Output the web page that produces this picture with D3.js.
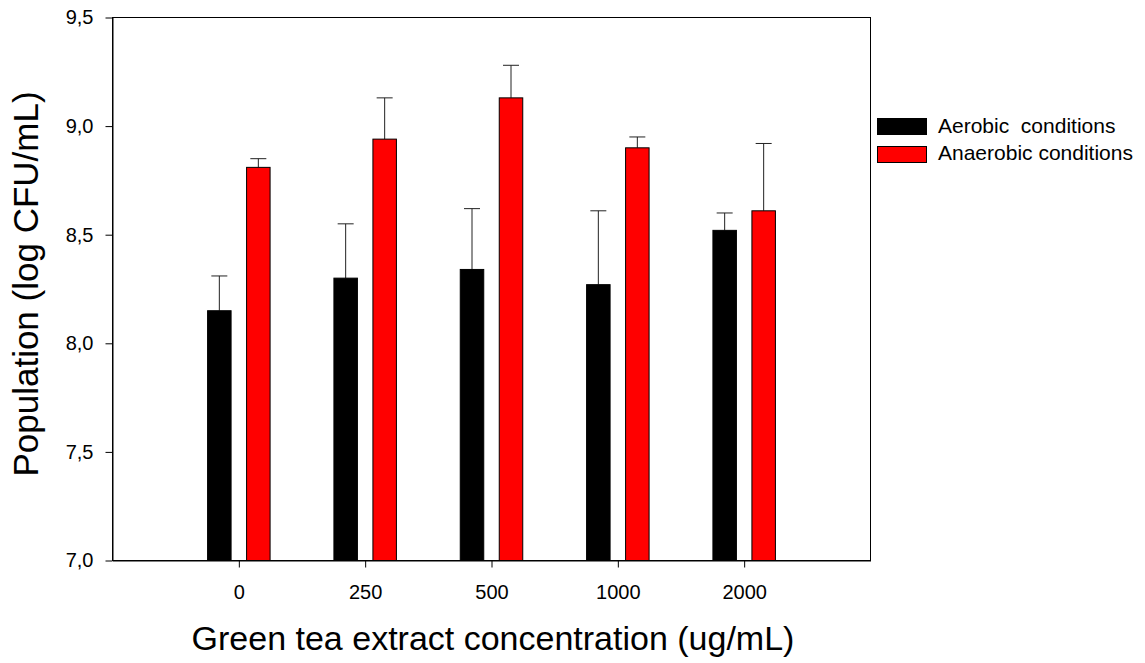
<!DOCTYPE html>
<html><head><meta charset="utf-8">
<script src="https://cdn.jsdelivr.net/npm/d3@7"></script>
<style>body{margin:0;background:#fff;} text{font-family:"Liberation Sans",Arial,sans-serif;}</style>
</head><body><svg id="c" width="1145" height="663"></svg>
<script>
const categories = ["0","250","500","1000","2000"];
const seriesNames = ["Aerobic  conditions","Anaerobic conditions"];
const aerobic = [8.15, 8.30, 8.34, 8.27, 8.52];
const aerobicErr = [0.16, 0.25, 0.28, 0.34, 0.08];
const anaerobic = [8.81, 8.94, 9.13, 8.90, 8.61];
const anaerobicErr = [0.04, 0.19, 0.15, 0.05, 0.31];
const yTicks = [7.0, 7.5, 8.0, 8.5, 9.0, 9.5];
const colors = ["#000000", "#ff0000"];

const svg = d3.select("#c");
const L = 112.5, R = 870.5, T = 17.5, B = 560.5;
const x = d3.scalePoint().domain(categories).range([L, R]).padding(1);
const y = d3.scaleLinear().domain([7.0, 9.5]).range([B, T]);
const series = [
  {name: seriesNames[0], vals: aerobic, err: aerobicErr, color: colors[0], off: -19.5},
  {name: seriesNames[1], vals: anaerobic, err: anaerobicErr, color: colors[1], off: 19.5}
];
const bw = 23.5;

// frame
svg.append("rect").attr("x", L).attr("y", T).attr("width", R - L).attr("height", B - T)
  .attr("fill", "none").attr("stroke", "#000").attr("stroke-width", 1);

// bars
series.forEach(s => {
  const g = svg.append("g");
  categories.forEach((c, i) => {
    const cx = x(c) + s.off;
    const top = y(s.vals[i] + s.err[i]);
    g.append("line").attr("x1", cx).attr("x2", cx).attr("y1", y(s.vals[i])).attr("y2", top)
      .attr("stroke", "#222").attr("stroke-width", 1);
    g.append("line").attr("x1", cx - 8).attr("x2", cx + 8).attr("y1", top).attr("y2", top)
      .attr("stroke", "#222").attr("stroke-width", 1);
  });
  g.selectAll("rect").data(s.vals).join("rect")
    .attr("x", (d, i) => x(categories[i]) + s.off - bw / 2)
    .attr("y", d => y(d))
    .attr("width", bw)
    .attr("height", d => y(7.0) - y(d))
    .attr("fill", s.color).attr("stroke", "#000").attr("stroke-width", 1);
});

// axes
const fmt = d => d3.format(".1f")(d).replace(".", ",");
const ya = svg.append("g").attr("transform", `translate(${L},0)`)
  .call(d3.axisLeft(y).tickValues(yTicks).tickFormat(fmt).tickSizeInner(7).tickSizeOuter(0).tickPadding(12));
const xa = svg.append("g").attr("transform", `translate(0,${B})`)
  .call(d3.axisBottom(x).tickSizeInner(7).tickSizeOuter(0).tickPadding(17));
[ya, xa].forEach(a => {
  a.select(".domain").attr("stroke", "#000");
  a.selectAll(".tick line").attr("stroke", "#000");
  a.selectAll("text").attr("font-size", 20).attr("fill", "#000")
    .attr("font-family", "'Liberation Sans', Arial, sans-serif");
});

// titles
svg.append("text").attr("x", 493).attr("y", 650).attr("text-anchor", "middle")
  .attr("font-size", 34).text("Green tea extract concentration (ug/mL)");
svg.append("text").attr("transform", "translate(38,284) rotate(-90)").attr("text-anchor", "middle")
  .attr("font-size", 35).text("Population (log CFU/mL)");

// legend
const lg = svg.append("g");
series.forEach((s, i) => {
  lg.append("rect").attr("x", 877.5).attr("y", 118.5 + i * 28).attr("width", 49).attr("height", 16)
    .attr("fill", s.color).attr("stroke", "#000").attr("stroke-width", 1);
  lg.append("text").attr("x", 938).attr("y", 133 + i * 27).attr("font-size", 21)
    .attr("xml:space", "preserve").style("white-space", "pre").text(s.name);
});
</script></body></html>
